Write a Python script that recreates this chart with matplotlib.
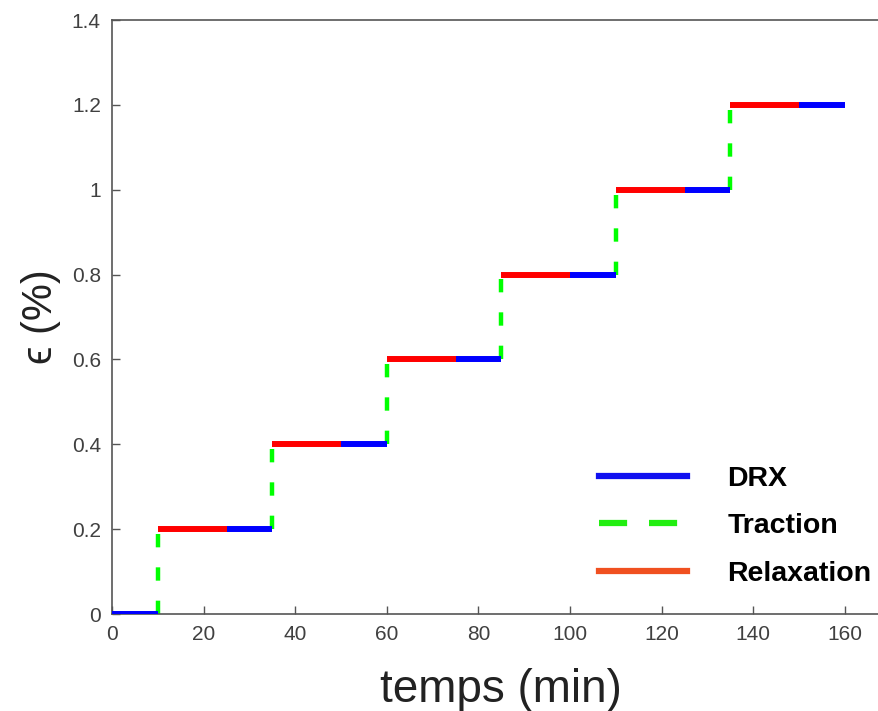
import numpy as np
from matplotlib import pyplot as plt
from matplotlib.lines import Line2D
from matplotlib.ticker import FormatStrFormatter

plt.rcParams['font.family'] = ['Liberation Sans', 'DejaVu Sans']

# strain levels (%) and times (min)
levels = [0.0, 0.2, 0.4, 0.6, 0.8, 1.0, 1.2]
t_traction = [10, 35, 60, 85, 110, 135]
t_relax_end = [25, 50, 75, 100, 125, 150]
t_drx_end = [35, 60, 85, 110, 135, 160]
t_start = 0

fig = plt.figure(figsize=(8.79, 7.11), dpi=100)
ax = fig.add_axes([0.1274, 0.1364, 0.886, 0.8354])

blue = '#0000ff'
green = '#00ff00'
red = '#ff0000'

# first DRX plateau
ax.plot([t_start, t_traction[0]], [levels[0], levels[0]], color=blue, lw=4.3,
        solid_capstyle='butt', zorder=3)
for i in range(len(t_traction)):
    ax.plot([t_traction[i], t_traction[i]], [levels[i], levels[i + 1]],
            color=green, lw=3.2, dashes=(3, 4.5), zorder=2)
    ax.plot([t_traction[i], t_relax_end[i]], [levels[i + 1], levels[i + 1]],
            color=red, lw=4.3, solid_capstyle='butt', zorder=3)
    ax.plot([t_relax_end[i], t_drx_end[i]], [levels[i + 1], levels[i + 1]],
            color=blue, lw=4.3, solid_capstyle='butt', zorder=3)

ax.set_xlim(0, 170)
ax.set_ylim(0, 1.4)
ax.set_xticks(np.arange(0, 161, 20))
ax.set_yticks(np.arange(0, 1.41, 0.2))
ax.yaxis.set_major_formatter(FormatStrFormatter('%g'))
ax.tick_params(direction='in', length=6, width=1, colors='#555555',
               labelcolor='#404040', labelsize=15, pad=8)
for s in ax.spines.values():
    s.set_color('#555555')
    s.set_linewidth(1.2)

ax.set_xlabel('temps (min)', fontsize=33, color='#222222', labelpad=17)
ax.set_ylabel('\u03f5 (%)', fontsize=30, color='#222222', labelpad=8,
              family=['Liberation Sans', 'DejaVu Sans'])

handles = [Line2D([], [], color='#1010f0', lw=4.5),
           Line2D([], [], color='#22ee11', lw=4.5, dashes=(4.5, 3.5)),
           Line2D([], [], color='#f05020', lw=4.5)]
leg = ax.legend(handles, ['DRX', 'Traction', 'Relaxation'], loc='lower right',
                bbox_to_anchor=(1.008, 0.003), frameon=False, handlelength=3.1,
                handletextpad=1.4, labelspacing=0.75,
                prop={'weight': 'bold', 'size': 20.5})

fig.savefig('out.png', dpi=100)
